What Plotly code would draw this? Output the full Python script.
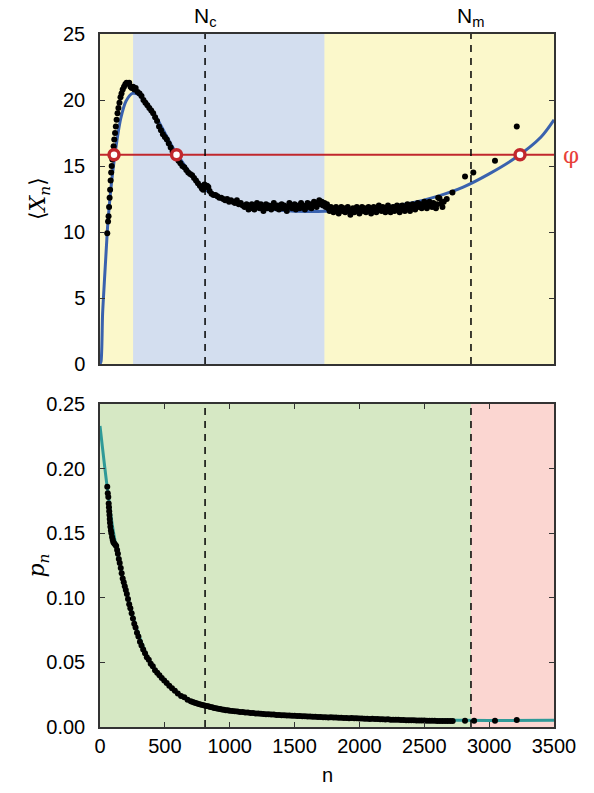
import plotly.graph_objects as go

# ---------------- data ----------------
N_C = 810
N_M = 2860
PHI = 15.85
BLUE_REGION = [255, 1730]

# fitted <X_n> curve
fit_x_n = [0, 8, 20, 30, 40, 50, 60, 80, 100, 130, 160, 200, 250, 300, 350, 400, 450, 500,
           550, 600, 700, 800, 900, 1000, 1200, 1400, 1600, 1800, 2000, 2200, 2400, 2600,
           2800, 3000, 3200, 3400, 3500]
fit_x_y = [0, 0.2, 3.8, 5.6, 7.3, 9.0, 10.6, 12.9, 14.7, 16.9, 18.6, 19.9, 20.5, 20.4, 19.9,
           19.2, 18.4, 17.5, 16.6, 15.8, 14.4, 13.3, 12.7, 12.3, 11.9, 11.65, 11.55, 11.6,
           11.7, 11.9, 12.2, 12.7, 13.4, 14.4, 15.6, 17.2, 18.5]

# measured <X_n>
x_n = [56, 62, 66, 70, 74, 78, 82, 86, 90, 95, 100, 105, 110, 116, 122, 128, 135, 142, 150,
       158, 166, 175, 185, 195, 205, 215, 225,
       235, 245, 255, 265, 275, 290, 305, 320, 335, 350, 365, 380, 395, 410, 425, 440, 455,
       470, 485, 500, 515, 530, 545, 560, 575, 590, 605, 620, 635, 650, 665, 680, 695, 710,
       725, 740, 755, 770, 785, 795, 805, 815, 825, 835, 845, 860, 875, 890, 905, 920, 935,
       950, 965, 980, 995, 1010, 1025, 1040, 1055, 1070, 1085, 1100, 1115, 1130, 1145,
       1160, 1170, 1180, 1190, 1200, 1210, 1220, 1230, 1240, 1250, 1260, 1270, 1280, 1290, 1300,
       1310, 1320, 1330, 1340, 1350, 1360, 1370, 1380, 1390, 1400, 1410, 1420, 1430, 1440, 1450,
       1460, 1470, 1480, 1490, 1500, 1510, 1520, 1530, 1540, 1550, 1560, 1570, 1580, 1590, 1600,
       1610, 1620, 1630, 1640, 1650, 1660, 1670, 1680, 1690, 1700, 1710, 1720, 1730, 1740, 1750,
       1760, 1770, 1780, 1790, 1800, 1810, 1820, 1830, 1840, 1850, 1860, 1870, 1880, 1890, 1900,
       1910, 1920, 1930, 1940, 1950, 1960, 1970, 1980, 1990, 2000, 2010, 2020, 2030, 2040, 2050,
       2060, 2070, 2080, 2090, 2100, 2110, 2120, 2130, 2140, 2150, 2160, 2170, 2180, 2190, 2200,
       2210, 2220, 2230, 2240, 2250, 2260, 2270, 2280, 2290, 2300, 2310, 2320, 2330, 2340, 2350,
       2360, 2370, 2380, 2390, 2400, 2410, 2420, 2430, 2440, 2450, 2460, 2470, 2480, 2490, 2500,
       2510, 2520, 2530, 2540, 2550, 2560, 2570, 2580, 2590, 2600,
       2607, 2617, 2634, 2640, 2650, 2673, 2717, 2814, 2878, 3045, 3213]
x_y = [9.9, 10.8, 11.2, 11.9, 12.6, 13.2, 13.9, 14.5, 15.0, 15.5, 16.0, 16.5, 17.0, 17.5,
       18.0, 18.5, 19.0, 19.4, 19.8, 20.2, 20.5, 20.8, 21.0, 21.2, 21.3, 21.25, 21.3,
       21.0, 20.9, 21.0, 20.8, 20.9, 20.6, 20.5, 20.3, 20.0, 19.8, 19.6, 19.4, 19.2, 19.0,
       18.7, 18.4, 18.0, 17.7, 17.4, 17.2, 17.0, 16.7, 16.4, 16.1, 15.9, 15.7, 15.4, 15.2,
       15.0, 14.9, 14.7, 14.5, 14.4, 14.3, 14.1, 13.9, 13.7, 13.5, 13.3, 13.2, 13.6, 13.4,
       13.5, 13.4, 13.1, 12.9, 12.8, 12.8, 12.7, 12.6, 12.6, 12.5, 12.4, 12.5, 12.3, 12.4,
       12.3, 12.2, 12.4, 12.1, 12.2, 12.0, 11.9, 12.1, 11.7,
       11.8, 12.1, 11.9, 11.7, 12.0, 12.2, 11.9, 11.8, 12.1, 11.9, 11.6, 11.9, 12.1, 11.8, 12.0,
       11.9, 11.7, 12.0, 12.2, 11.9, 11.8, 12.0, 11.7, 11.9, 12.1, 11.8, 12.0, 11.9, 11.6, 11.9,
       12.2, 12.0, 11.8, 11.9, 12.1, 11.7, 11.9, 12.0, 11.8, 12.2, 12.0, 11.9, 11.7, 12.0, 12.2,
       11.9, 12.1, 11.8, 12.0, 12.3, 12.1, 11.9, 12.2, 12.4, 12.1, 12.3, 12.0, 12.2, 11.9, 12.1,
       11.8, 11.6, 11.9, 11.7, 11.5, 11.8, 11.9, 11.6, 11.4, 11.7, 11.9, 11.6, 11.8, 11.5, 11.7,
       11.9, 11.6, 11.3, 11.6, 11.8, 11.5, 11.7, 11.9, 11.6, 11.4, 11.7, 11.9, 11.6, 11.8, 11.5,
       11.7, 11.9, 11.6, 11.4, 11.7, 11.9, 11.8, 11.5, 11.7, 12.0, 11.8, 11.6, 11.9, 11.7, 11.5,
       11.8, 12.0, 11.7, 11.5, 11.8, 11.9, 11.6, 11.8, 12.0, 11.7, 11.5, 11.8, 12.0, 11.8, 11.6,
       11.9, 12.1, 11.8, 11.6, 11.9, 12.1, 11.9, 11.7, 12.0, 12.2, 11.9, 12.1, 11.8, 12.0, 12.3,
       12.0, 11.8, 12.1, 12.3, 12.0, 11.9, 12.2, 12.0, 11.8, 12.1,
       12.6, 12.55, 12.2, 11.9, 12.3, 12.5, 13.0, 14.2, 14.5, 15.4, 18.0]

# intersections with phi
phi_n = [108, 590, 3238]
phi_y = [PHI, PHI, PHI]

# fitted p_n curve
fit_p_n = [0, 50, 100, 150, 200, 250, 300, 350, 400, 500, 600, 700, 800, 1000, 1200, 1500,
           2000, 2500, 3000, 3500]
fit_p_y = [0.233, 0.190, 0.153, 0.127, 0.106, 0.087, 0.071, 0.058, 0.048, 0.035, 0.026,
           0.020, 0.017, 0.0125, 0.0102, 0.0085, 0.0068, 0.0055, 0.0050, 0.0052]

# measured p_n
p_n = [56, 60, 64, 67, 69, 71, 73, 75, 77, 80, 84, 88, 93, 98, 103, 110, 118, 125, 132, 138,
       145, 152, 160, 167, 175, 183, 191, 199, 207, 216, 225, 234, 244, 254, 264, 274, 285,
       296, 308, 320, 333, 347, 361, 376, 391, 407, 424, 441, 458, 476, 495, 514, 534, 555,
       577, 600, 625, 650, 675, 700, 715, 730, 745, 760, 775, 790, 805, 820, 835, 850, 865,
       880, 895, 910, 925, 940, 955, 970, 985, 1000,
       1020, 1040, 1060, 1080, 1100, 1120, 1140, 1160, 1180, 1200, 1220, 1240, 1260, 1280, 1300,
       1320, 1340, 1360, 1380, 1400, 1420, 1440, 1460, 1480, 1500, 1520, 1540, 1560, 1580, 1600,
       1620, 1640, 1660, 1680, 1700, 1720, 1740, 1760, 1780, 1800, 1820, 1840, 1860, 1880, 1900,
       1920, 1940, 1960, 1980, 2000, 2020, 2040, 2060, 2080, 2100, 2120, 2140, 2160, 2180, 2200,
       2220, 2240, 2260, 2280, 2300, 2320, 2340, 2360, 2380, 2400, 2420, 2440, 2460, 2480, 2500,
       2520, 2540, 2560, 2580, 2600, 2620, 2640, 2660, 2680, 2700,
       2719, 2814, 2884, 3045, 3213]
p_y = [0.186, 0.181, 0.178, 0.173, 0.170, 0.167, 0.164, 0.161, 0.158, 0.155, 0.152, 0.150,
       0.147, 0.145, 0.143, 0.142, 0.141, 0.140, 0.137, 0.134, 0.130, 0.127, 0.123, 0.119,
       0.115, 0.112, 0.109, 0.106, 0.103, 0.099, 0.095, 0.092, 0.088, 0.084, 0.080, 0.077,
       0.073, 0.070, 0.066, 0.063, 0.060, 0.057, 0.054, 0.052, 0.049, 0.047, 0.044, 0.042,
       0.040, 0.038, 0.036, 0.034, 0.032, 0.030, 0.028, 0.026, 0.024, 0.023, 0.021, 0.020,
       0.0194, 0.0188, 0.0184, 0.0178, 0.0175, 0.0170, 0.0167, 0.0163, 0.0160, 0.0155, 0.0152,
       0.0148, 0.0146, 0.0142, 0.0140, 0.0136, 0.0134, 0.0130, 0.0129, 0.0126,
       0.0124, 0.0121, 0.0120, 0.0117, 0.0116, 0.0113, 0.0112, 0.0109, 0.0108, 0.0105,
       0.0105, 0.0102, 0.0101, 0.0098, 0.0098, 0.0096, 0.0096, 0.0093, 0.0093, 0.0091,
       0.0091, 0.0089, 0.0089, 0.0087, 0.0087, 0.0085, 0.0085, 0.0083, 0.0083, 0.0081,
       0.0081, 0.0079, 0.0080, 0.0077, 0.0078, 0.0076, 0.0076, 0.0074, 0.0075, 0.0073,
       0.0073, 0.0071, 0.0072, 0.0070, 0.0070, 0.0068, 0.0069, 0.0067, 0.0067, 0.0065,
       0.0066, 0.0064, 0.0064, 0.0062, 0.0063, 0.0061, 0.0061, 0.0060, 0.0060, 0.0058,
       0.0059, 0.0057, 0.0057, 0.0056, 0.0056, 0.0054, 0.0055, 0.0053, 0.0053, 0.0052,
       0.0052, 0.0051, 0.0051, 0.0050, 0.0050, 0.0049, 0.0049, 0.0048, 0.0048, 0.0047,
       0.0047, 0.0047, 0.0046, 0.0047, 0.0046,
       0.0046, 0.0049, 0.0049, 0.0049, 0.0054]

x_ticks = [0, 500, 1000, 1500, 2000, 2500, 3000, 3500]

# ---------------- styles ----------------
YELLOW = "#fbf8cb"
BLUEBG = "#d3deef"
GREEN = "#d6e8c4"
PINK = "#fbd6d1"
BLUE = "#3a62ae"
TEAL = "#2f9a98"
RED = "#c1272d"
FONT = "Liberation Sans"

fig = go.Figure()

fig.add_trace(go.Scatter(x=fit_x_n, y=fit_x_y, mode="lines", line=dict(color=BLUE, width=3, shape="spline", smoothing=0.8),
                         xaxis="x", yaxis="y", hoverinfo="skip"))
fig.add_trace(go.Scatter(x=x_n, y=x_y, mode="markers", marker=dict(color="black", size=6),
                         xaxis="x", yaxis="y"))
fig.add_trace(go.Scatter(x=[0, 3500], y=[PHI, PHI], mode="lines", line=dict(color=RED, width=2),
                         xaxis="x", yaxis="y", hoverinfo="skip"))
fig.add_trace(go.Scatter(x=phi_n, y=phi_y, mode="markers",
                         marker=dict(color="white", size=10, line=dict(color=RED, width=3.5)),
                         xaxis="x", yaxis="y"))

fig.add_trace(go.Scatter(x=fit_p_n, y=fit_p_y, mode="lines", line=dict(color=TEAL, width=3, shape="spline", smoothing=0.8),
                         xaxis="x2", yaxis="y2", hoverinfo="skip"))
fig.add_trace(go.Scatter(x=p_n, y=p_y, mode="markers", marker=dict(color="black", size=6),
                         xaxis="x2", yaxis="y2"))

shapes = []
# top backgrounds
shapes.append(dict(type="rect", xref="x", yref="y domain", x0=0, x1=3500, y0=0, y1=1,
                   fillcolor=YELLOW, line_width=0, layer="below"))
shapes.append(dict(type="rect", xref="x", yref="y domain", x0=BLUE_REGION[0], x1=BLUE_REGION[1], y0=0, y1=1,
                   fillcolor=BLUEBG, line_width=0, layer="below"))
# bottom backgrounds
shapes.append(dict(type="rect", xref="x2", yref="y2 domain", x0=0, x1=N_M, y0=0, y1=1,
                   fillcolor=GREEN, line_width=0, layer="below"))
shapes.append(dict(type="rect", xref="x2", yref="y2 domain", x0=N_M, x1=3500, y0=0, y1=1,
                   fillcolor=PINK, line_width=0, layer="below"))
for xr, yr in [("x", "y domain"), ("x2", "y2 domain")]:
    for v in [N_C, N_M]:
        shapes.append(dict(type="line", xref=xr, yref=yr, x0=v, x1=v, y0=0, y1=1,
                           line=dict(color="black", width=1.5, dash="7px,6px")))

axis_common = dict(showline=True, linecolor="#333333", linewidth=1.5, mirror="ticks",
                   ticks="inside", ticklen=5, tickcolor="#333333", showgrid=False, zeroline=False,
                   tickfont=dict(family=FONT, size=20, color="black"))

fig.update_layout(
    width=594, height=793,
    margin=dict(l=100, r=40, t=34, b=66),
    paper_bgcolor="white", plot_bgcolor="white",
    showlegend=False,
    shapes=shapes,
    xaxis=dict(domain=[0, 1], range=[0, 3500], anchor="y", showticklabels=False,
               showline=True, linecolor="#333333", linewidth=1.5, mirror=True,
               ticks="", showgrid=False, zeroline=False),
    yaxis=dict(domain=[0.5238, 1.0], range=[0, 25], tickvals=[0, 5, 10, 15, 20, 25], anchor="x",
               ticklabelstandoff=9, **axis_common),
    xaxis2=dict(domain=[0, 1], range=[0, 3500], tickvals=x_ticks, anchor="y2", **axis_common),
    yaxis2=dict(domain=[0, 0.4661], range=[0, 0.25], tickvals=[0, 0.05, 0.10, 0.15, 0.20, 0.25],
                tickformat=".2f", anchor="x2", ticklabelstandoff=9, **axis_common),
    annotations=[
        dict(text="N<sub>c</sub>", x=N_C, xref="x", y=1, yref="paper", yanchor="middle", yshift=17,
             showarrow=False, font=dict(family=FONT, size=21, color="black")),
        dict(text="N<sub>m</sub>", x=N_M, xref="x", y=1, yref="paper", yanchor="middle", yshift=17,
             showarrow=False, font=dict(family=FONT, size=21, color="black")),
        dict(text="φ", x=1.0, xref="paper", xanchor="center", xshift=17, y=PHI, yref="y", yanchor="middle",
             showarrow=False, font=dict(family="DejaVu Serif", size=23, color="#e8413a")),
        dict(text="⟨<i>X<sub>n</sub></i>⟩", x=0, xref="paper", xanchor="center", xshift=-61, y=0.7619,
             yref="paper", yanchor="middle", textangle=-90, showarrow=False,
             font=dict(family="DejaVu Serif", size=22, color="black")),
        dict(text="<i>p<sub>n</sub></i>", x=0, xref="paper", xanchor="center", xshift=-61, y=0.233,
             yref="paper", yanchor="middle", textangle=-90, showarrow=False,
             font=dict(family="DejaVu Serif", size=22, color="black")),
        dict(text="n", x=0.5, xref="paper", y=0, yref="paper", yanchor="middle", yshift=-48,
             showarrow=False, font=dict(family=FONT, size=20, color="black")),
    ],
)

fig.write_html("out.html")
